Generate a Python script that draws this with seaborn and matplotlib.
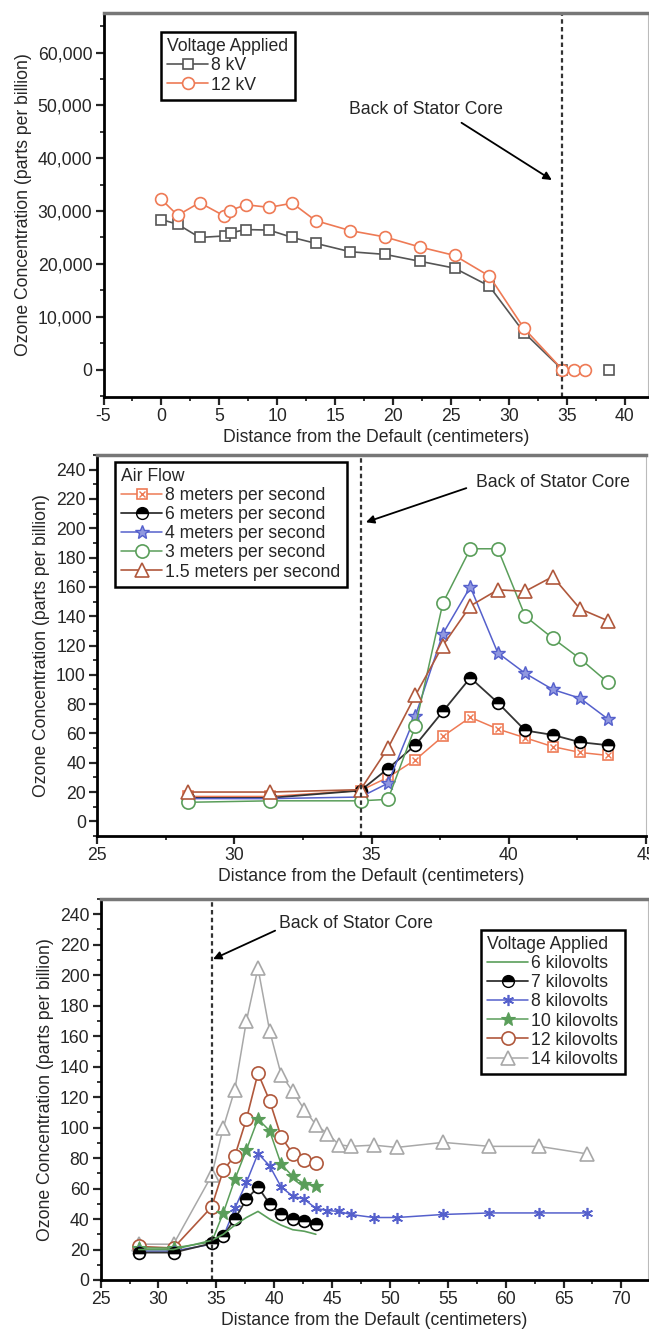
import numpy as np
import matplotlib
matplotlib.use('Agg')
import matplotlib.pyplot as plt
import seaborn as sns
from matplotlib.lines import Line2D
from matplotlib.legend_handler import HandlerTuple
from matplotlib.ticker import MultipleLocator, FuncFormatter

# ---- panel 1: voltage, ozone vs distance ----
p1_x_8kv = [0, 1.4, 3.3, 5.5, 6.0, 7.3, 9.3, 11.3, 13.3, 16.3, 19.3, 22.3, 25.3, 28.3, 31.3, 34.6]
p1_y_8kv = [28400, 27500, 25000, 25300, 25900, 26500, 26400, 25000, 23900, 22300, 21800, 20500, 19200, 15800, 7000, 0]
p1_x_8kv_extra = [38.6]
p1_y_8kv_extra = [0]
p1_x_12kv = [0, 1.4, 3.3, 5.4, 5.9, 7.3, 9.3, 11.3, 13.3, 16.3, 19.3, 22.3, 25.3, 28.3, 31.3, 34.6]
p1_y_12kv = [32200, 29200, 31600, 29100, 30100, 31200, 30700, 31500, 28200, 26300, 25100, 23200, 21600, 17700, 7800, 0]
p1_x_12kv_extra = [35.6, 36.6]
p1_y_12kv_extra = [0, 0]

# ---- panel 2: air flow ----
p2_x = [28.3, 31.3, 34.6, 35.6, 36.6, 37.6, 38.6, 39.6, 40.6, 41.6, 42.6, 43.6]
p2_8ms = [17, 17, 21, 30, 42, 58, 71, 63, 57, 51, 47, 45]
p2_6ms = [16, 16, 21, 36, 52, 75, 98, 81, 62, 59, 54, 52]
p2_4ms = [15.5, 15.5, 16.6, 26, 72, 128, 160, 115, 101, 90, 84, 70]
p2_3ms = [13, 14, 14, 15, 65, 149, 186, 186, 140, 125, 111, 95]
p2_15ms = [20, 20, 21.6, 50, 86, 120, 147, 158, 157, 167, 145, 137]
p2_labels = ['8 meters per second', '6 meters per second', '4 meters per second',
             '3 meters per second', '1.5 meters per second']

# ---- panel 3: voltage, long range ----
p3_x_short = [28.3, 31.3, 34.6, 35.6, 36.6, 37.6, 38.6, 39.6, 40.6, 41.6, 42.6, 43.6]
p3_x_long = [28.3, 31.3, 34.6, 35.6, 36.6, 37.6, 38.6, 39.6, 40.6, 41.6, 42.6, 43.6,
             44.6, 45.6, 46.6, 48.6, 50.6, 54.6, 58.6, 62.9, 67.0]
p3_6kv = [20, 20, 26, 30, 36, 41, 45, 40, 36, 33, 32, 30]
p3_7kv = [18, 18, 24, 29, 40, 53, 61, 50, 43, 40, 39, 37]
p3_8kv = [19, 19, 23.5, 28.5, 47, 64, 83, 75, 61, 55, 53, 47, 45.6, 45, 43, 41, 41, 43, 44, 44, 44]
p3_10kv = [21, 21, 25, 44, 66, 85.5, 105.6, 98, 76, 68, 63, 62]
p3_12kv = [22, 21, 48, 72, 81.5, 105.6, 135.7, 117.7, 94, 83, 78.5, 76.7]
p3_14kv = [23.5, 23.5, 68.6, 100, 125, 170, 204.7, 163.7, 134.8, 123.8, 111.8, 102, 96, 88.8,
           87.7, 88.5, 87, 90.3, 87.7, 87.7, 82.8]
p3_labels = ['6 kilovolts', '7 kilovolts', '8 kilovolts', '10 kilovolts', '12 kilovolts', '14 kilovolts']

stator_x = 34.6

sns.set_style('ticks')
plt.rcParams['font.family'] = ['Liberation Sans', 'DejaVu Sans']
plt.rcParams['font.size'] = 12.5
plt.rcParams['axes.unicode_minus'] = False

FS = 12.7
ORANGE = '#ee7a55'
BLACK = '#333333'
BLUE = '#5560cc'
GREEN = '#5a9e5a'
BROWN = '#b0583c'
GRAY = '#a8a8a8'

fig = plt.figure(figsize=(6.49, 13.29), dpi=100)
W, H = 649, 1329


def make_axes(left, right, top, bottom):
    return fig.add_axes([left / W, 1 - bottom / H, (right - left) / W, (bottom - top) / H])


ax1 = make_axes(103.5, 648, 13, 397)
ax2 = make_axes(97, 646, 455, 836)
ax3 = make_axes(100.6, 648, 899, 1280)


def style_axes(ax):
    ax.spines['left'].set_linewidth(2.0)
    ax.spines['bottom'].set_linewidth(2.0)
    ax.spines['left'].set_color('black')
    ax.spines['bottom'].set_color('black')
    ax.spines['top'].set_linewidth(2.5)
    ax.spines['top'].set_color('#777777')
    ax.spines['right'].set_linewidth(0.8)
    ax.spines['right'].set_color('#bbbbbb')
    ax.tick_params(which='major', direction='out', length=6, width=1.6, labelsize=FS, pad=2,
                   top=False, right=False)
    ax.tick_params(which='minor', direction='out', length=3, width=1.3, top=False, right=False)
    ax.set_xlabel('Distance from the Default (centimeters)', fontsize=FS, labelpad=3)
    ax.set_ylabel('Ozone Concentration (parts per billion)', fontsize=FS, labelpad=4)


def series(ax, x, y, color, marker, ms=8, mfc='white', ls='-', lw=1.2, **kw):
    sns.lineplot(x=x, y=y, ax=ax, color=color, marker=marker, markersize=ms,
                 markerfacecolor=mfc, markeredgecolor=kw.pop('mec', color),
                 markeredgewidth=kw.pop('mew', 1.2), linestyle=ls, linewidth=lw,
                 estimator=None, sort=False, **kw)


leg_kw = dict(loc='upper left', fancybox=False, edgecolor='black', fontsize=FS,
              title_fontsize=FS, alignment='left', handlelength=2.3, handletextpad=0.2,
              borderpad=0.35, labelspacing=0.12, framealpha=1, borderaxespad=0)

# ---------- panel 1 ----------
series(ax1, p1_x_8kv, p1_y_8kv, '#555555', 's', ms=7.5)
series(ax1, p1_x_8kv_extra, p1_y_8kv_extra, '#555555', 's', ms=7.5, ls='none')
series(ax1, p1_x_12kv, p1_y_12kv, ORANGE, 'o', ms=8.5)
series(ax1, p1_x_12kv_extra, p1_y_12kv_extra, ORANGE, 'o', ms=8.5, ls='none')
ax1.axvline(stator_x, color='#333333', lw=1.6, ls=(0, (2, 1.5)))
ax1.set_xlim(-5, 42)
ax1.set_ylim(-5200, 67500)
ax1.xaxis.set_major_locator(MultipleLocator(5))
ax1.xaxis.set_minor_locator(MultipleLocator(2.5))
ax1.yaxis.set_major_locator(MultipleLocator(10000))
ax1.yaxis.set_minor_locator(MultipleLocator(5000))
ax1.yaxis.set_major_formatter(FuncFormatter(lambda v, p: f'{int(v):,}'))
ax1.text(16.2, 49200, 'Back of Stator Core', fontsize=FS, va='center', ha='left')
ax1.annotate('', xy=(33.9, 35600), xytext=(25.7, 47000),
             arrowprops=dict(arrowstyle='-|>', color='black', lw=1.3, mutation_scale=12))
style_axes(ax1)
h1 = [Line2D([], [], color='#555555', marker='s', ms=7.5, mfc='white', mew=1.2, lw=1.2),
      Line2D([], [], color=ORANGE, marker='o', ms=8.5, mfc='white', mew=1.2, lw=1.2)]
leg1 = ax1.legend(h1, ['8 kV', '12 kV'], title='Voltage Applied',
                  bbox_to_anchor=(0.106, 0.95), **leg_kw)
leg1.get_frame().set_linewidth(1.8)

# ---------- panel 2 ----------
series(ax2, p2_x, p2_8ms, ORANGE, 's', ms=7, lw=1.1)
series(ax2, p2_x, p2_8ms, ORANGE, 'x', ms=4, ls='none', mew=1.0)
series(ax2, p2_x, p2_6ms, BLACK, 'o', ms=8.5, mfc='black', mec='black', fillstyle='top',
       markerfacecoloralt='white', lw=1.3)
series(ax2, p2_x, p2_4ms, BLUE, '*', ms=10, mfc='#9098e0', lw=1.1, mew=1.0)
series(ax2, p2_x, p2_3ms, GREEN, 'o', ms=9.5, lw=1.1)
series(ax2, p2_x, p2_15ms, BROWN, '^', ms=9.5, lw=1.2)
ax2.axvline(stator_x, color='#333333', lw=1.6, ls=(0, (2, 1.5)))
ax2.set_xlim(25, 45)
ax2.set_ylim(-10, 250)
ax2.xaxis.set_major_locator(MultipleLocator(5))
ax2.xaxis.set_minor_locator(MultipleLocator(2.5))
ax2.yaxis.set_major_locator(MultipleLocator(20))
ax2.yaxis.set_minor_locator(MultipleLocator(10))
ax2.text(38.8, 230.9, 'Back of Stator Core', fontsize=FS, va='center', ha='left')
ax2.annotate('', xy=(34.7, 203.5), xytext=(38.55, 228),
             arrowprops=dict(arrowstyle='-|>', color='black', lw=1.3, mutation_scale=12))
style_axes(ax2)
h2 = [(Line2D([], [], color=ORANGE, marker='s', ms=7, mfc='white', mew=1.2, lw=1.1),
       Line2D([], [], color=ORANGE, marker='x', ms=4, mew=1.0, ls='none')),
      Line2D([], [], color=BLACK, marker='o', ms=8.5, mfc='black', mec='black', fillstyle='top',
             markerfacecoloralt='white', lw=1.3),
      Line2D([], [], color=BLUE, marker='*', ms=10, mfc='#9098e0', mew=1.0, lw=1.1),
      Line2D([], [], color=GREEN, marker='o', ms=9.5, mfc='white', mew=1.2, lw=1.1),
      Line2D([], [], color=BROWN, marker='^', ms=9.5, mfc='white', mew=1.2, lw=1.2)]
leg2 = ax2.legend(h2, p2_labels, title='Air Flow', bbox_to_anchor=(0.033, 0.982),
                  handler_map={tuple: HandlerTuple(ndivide=1)}, **leg_kw)
leg2.get_frame().set_linewidth(1.8)

# ---------- panel 3 ----------
series(ax3, p3_x_long, p3_14kv, GRAY, '^', ms=9.5, lw=1.1)
series(ax3, p3_x_short, p3_12kv, BROWN, 'o', ms=9.5, lw=1.2)
series(ax3, p3_x_short, p3_10kv, GREEN, '*', ms=10, mfc=GREEN, lw=1.1, mew=0.8)
series(ax3, p3_x_long, p3_8kv, BLUE, (6, 2, 0), ms=8, lw=1.1, mew=1.2)
series(ax3, p3_x_short, p3_7kv, BLACK, 'o', ms=8.5, mfc='black', mec='black', fillstyle='top',
       markerfacecoloralt='white', lw=1.3)
series(ax3, p3_x_short, p3_6kv, GREEN, None, lw=1.2)
ax3.axvline(stator_x, color='#333333', lw=1.6, ls=(0, (2, 1.5)))
ax3.set_xlim(25, 72.3)
ax3.set_ylim(0, 250)
ax3.xaxis.set_major_locator(MultipleLocator(5))
ax3.xaxis.set_minor_locator(MultipleLocator(2.5))
ax3.yaxis.set_major_locator(MultipleLocator(20))
ax3.yaxis.set_minor_locator(MultipleLocator(10))
ax3.text(40.4, 233.9, 'Back of Stator Core', fontsize=FS, va='center', ha='left')
ax3.annotate('', xy=(34.5, 209.8), xytext=(40.3, 230),
             arrowprops=dict(arrowstyle='-|>', color='black', lw=1.3, mutation_scale=12))
style_axes(ax3)
h3 = [Line2D([], [], color=GREEN, lw=1.2),
      Line2D([], [], color=BLACK, marker='o', ms=8.5, mfc='black', mec='black', fillstyle='top',
             markerfacecoloralt='white', lw=1.3),
      Line2D([], [], color=BLUE, marker=(6, 2, 0), ms=8, mew=1.2, lw=1.1),
      Line2D([], [], color=GREEN, marker='*', ms=10, mfc=GREEN, mew=0.8, lw=1.1),
      Line2D([], [], color=BROWN, marker='o', ms=9.5, mfc='white', mew=1.2, lw=1.2),
      Line2D([], [], color=GRAY, marker='^', ms=9.5, mfc='white', mew=1.2, lw=1.1)]
leg3 = ax3.legend(h3, p3_labels, title='Voltage Applied', bbox_to_anchor=(0.695, 0.919), **leg_kw)
leg3.get_frame().set_linewidth(1.8)

fig.savefig('out.png', dpi=100)
